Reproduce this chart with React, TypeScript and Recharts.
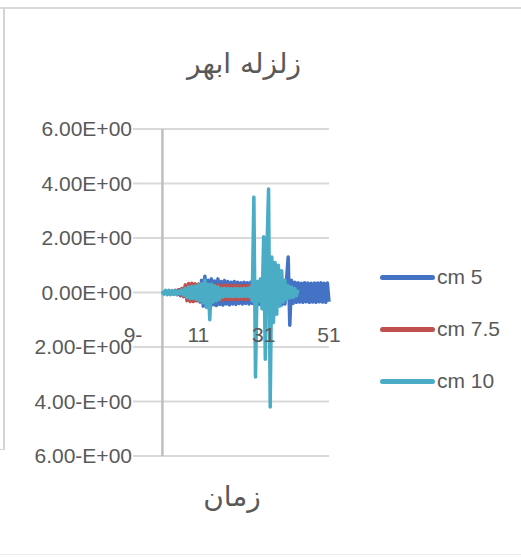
import { LineChart, Line, XAxis, YAxis, CartesianGrid, ReferenceLine } from 'recharts'

// time axis (s)
const times = [
  0, 0.5, 1, 1.5, 2, 2.5, 3, 3.5, 4, 4.5, 5, 5.5, 6, 6.5, 7, 7.5, 8, 8.5, 9, 9.5,
  10, 10.5, 11, 11.5, 12, 12.5, 13, 13.5, 14, 14.5, 15, 15.5, 16, 16.5, 17, 17.5, 18, 18.5, 19, 19.5,
  20, 20.5, 21, 21.5, 22, 22.5, 23, 23.5, 24, 24.5, 25, 25.5, 26, 26.5, 27, 27.5, 28, 28.5, 29, 29.5,
  30, 30.5, 31, 31.5, 32, 32.5, 33, 33.5, 34, 34.5, 35, 35.5, 36, 36.5, 37, 37.5, 38, 38.5, 39, 39.5,
  40, 40.5, 41, 41.5, 42, 42.5, 43, 43.5, 44, 44.5, 45, 45.5, 46, 46.5, 47, 47.5, 48, 48.5, 49, 49.5,
  50, 50.5, 51,
]

const cm5 = [
  0.03, -0.03, 0.04, -0.04, 0.05, -0.05, 0.06, -0.06, 0.08, -0.08, 0.1, -0.12, 0.14, -0.15, 0.18, -0.2, 0.22, -0.22, 0.24, -0.25,
  0.26, -0.28, 0.3, -0.35, 0.45, -0.5, 0.6, -0.5, 0.45, -0.45, 0.5, -0.45, 0.42, -0.48, 0.5, -0.44, 0.4, -0.46, 0.44, -0.42,
  0.4, -0.45, 0.38, -0.42, 0.4, -0.44, 0.38, -0.4, 0.36, -0.42, 0.38, -0.4, 0.36, -0.42, 0.38, -0.4, 0.4, -0.42, 0.4, -0.44,
  0.42, -0.45, 0.45, -0.48, 0.5, -0.5, 0.48, -0.46, 0.45, -0.45, 0.42, -0.44, 0.42, -0.45, 0.44, -0.42, 0.45, 1.3, -1.2, 0.45,
  -0.4, 0.38, -0.36, 0.36, -0.35, 0.34, -0.36, 0.36, -0.34, 0.35, -0.36, 0.34, -0.35, 0.35, -0.36, 0.35, -0.34, 0.36, -0.35, 0.34,
  -0.36, 0.35, -0.34,
]

const cm75 = [
  0.02, -0.02, 0.03, -0.03, 0.04, -0.04, 0.05, -0.05, 0.06, -0.06, 0.1, -0.1, 0.15, -0.15, 0.28, -0.3, 0.33, -0.33, 0.34, -0.33,
  0.32, -0.31, 0.3, -0.3, 0.3, -0.28, 0.28, -0.27, 0.27, -0.27, 0.28, -0.26, 0.27, -0.26, 0.28, -0.27, 0.26, -0.27, 0.27, -0.26,
  0.27, -0.26, 0.26, -0.27, 0.27, -0.26, 0.26, -0.25, 0.26, -0.26, 0.25, -0.25, 0.26, -0.25, 0.25, -0.24, 0.25, -0.24, 0.24, -0.23,
  0.22, -0.2, 0.15, -0.12, null, null, null, null, null, null, null, null, null, null, null, null, null, null, null, null,
  null, null, null, null, null, null, null, null, null, null, null, null, null, null, null, null, null, null, null, null,
  null, null, null,
]

const cm10 = [
  0.06, -0.06, 0.08, -0.08, 0.08, -0.08, 0.07, -0.07, 0.06, -0.06, 0.05, -0.05, 0.1, -0.1, 0.15, -0.18, 0.2, -0.22, 0.22, -0.22,
  0.24, -0.26, 0.28, -0.3, 0.32, -0.38, 0.45, -0.55, 0.3, -1.0, 0.3, -0.35, 0.25, -0.3, 0.2, -0.25, 0.15, -0.16, 0.15, -0.14,
  0.15, -0.15, 0.14, -0.15, 0.15, -0.14, 0.15, -0.15, 0.14, -0.15, 0.15, -0.14, 0.15, -0.15, 0.2, -0.3, 3.5, -3.1, 0.4, -0.3,
  0.5, -0.6, 2.05, -2.45, 1.6, 3.8, -4.2, 1.3, -1.1, 1.1, -0.8, 1.0, -0.5, 0.8, -0.35, 0.45, -0.25, 0.25, -0.2, 0.2,
  -0.18, 0.15, -0.12, 0.1, null, null, null, null, null, null, null, null, null, null, null, null, null, null, null, null,
  null, null, null,
]

const xTicks = [-9, 11, 31, 51]
const yTicks = [-6, -4, -2, 0, 2, 4, 6]

const chartTitle = 'زلزله ابهر'
const xTitle = 'زمان'

const series = [
  { key: 'cm5', name: 'cm 5', color: '#4472C4' },
  { key: 'cm75', name: 'cm 7.5', color: '#C0504D' },
  { key: 'cm10', name: 'cm 10', color: '#4BACC6' },
]

const data = times.map((t, i) => ({ t, cm5: cm5[i], cm75: cm75[i], cm10: cm10[i] }))

const font = "'Liberation Sans', Arial, sans-serif"
const textColor = '#595959'

// the way Excel showed these labels in an RTL sheet
const fmtY = (v: number) => (v < 0 ? `${Math.abs(v).toFixed(2)}-E+00` : `${v.toFixed(2)}E+00`)
const fmtX = (v: number) => (v < 0 ? `${Math.abs(v)}-` : `${v}`)

function XTick({ x, payload }: any) {
  return (
    <text x={x} y={342} textAnchor="middle" fill={textColor} fontSize={21} fontFamily={font}>
      {fmtX(payload.value)}
    </text>
  )
}

export default function App() {
  return (
    <div style={{ position: 'absolute', left: 0, top: 0, width: 521, height: 558, background: '#fff', overflow: 'hidden' }}>
      {/* chart frame */}
      <div style={{ position: 'absolute', left: 0, top: 7, width: 521, height: 2, background: '#d9d9d9' }} />
      <div style={{ position: 'absolute', left: 3, top: 9, width: 2, height: 441, background: '#d4d4d4' }} />
      <div style={{ position: 'absolute', left: 0, top: 449, width: 5, height: 1, background: '#d4d4d4' }} />
      <div style={{ position: 'absolute', left: 0, top: 554, width: 521, height: 1, background: '#eeeeee' }} />

      <div
        style={{
          position: 'absolute', left: 144, top: 44, width: 200, textAlign: 'center',
          fontFamily: "'DejaVu Sans', sans-serif", fontSize: 28, lineHeight: '40px', color: textColor,
        }}
      >
        {chartTitle}
      </div>

      <LineChart width={521} height={558} data={data} margin={{ top: 129, right: 192, bottom: 72, left: 0 }}>
        <CartesianGrid vertical={false} stroke="#d9d9d9" strokeWidth={2} />
        <XAxis
          dataKey="t"
          type="number"
          domain={[-9, 51]}
          ticks={xTicks}
          axisLine={false}
          tickLine={false}
          height={30}
          tick={<XTick />}
          interval={0}
        />
        <YAxis
          type="number"
          domain={[-6, 6]}
          ticks={yTicks}
          width={133}
          axisLine={false}
          tickLine={false}
          tickSize={0}
          tickMargin={1}
          interval={0}
          tickFormatter={fmtY}
          tick={{ fill: textColor, fontSize: 21, fontFamily: font }}
        />
        <ReferenceLine x={0} stroke="#bfbfbf" strokeWidth={2.5} />
        {series.map(s => (
          <Line
            key={s.key}
            type="linear"
            dataKey={s.key}
            name={s.name}
            stroke={s.color}
            strokeWidth={3.5}
            strokeLinejoin="round"
            dot={false}
            isAnimationActive={false}
          />
        ))}
      </LineChart>

      <div
        style={{
          position: 'absolute', left: 132, top: 477, width: 200, textAlign: 'center',
          fontFamily: "'DejaVu Sans', sans-serif", fontSize: 28, lineHeight: '40px', color: textColor,
        }}
      >
        {xTitle}
      </div>

      {series.map((s, i) => (
        <div
          key={s.key}
          style={{
            position: 'absolute', left: 380, top: 265 + i * 52, height: 24, display: 'flex', alignItems: 'center',
            fontFamily: font, fontSize: 21, color: textColor, whiteSpace: 'nowrap',
          }}
        >
          <div style={{ width: 55, height: 5, borderRadius: 3, background: s.color, marginRight: 2 }} />
          <span>{s.name}</span>
        </div>
      ))}
    </div>
  )
}
